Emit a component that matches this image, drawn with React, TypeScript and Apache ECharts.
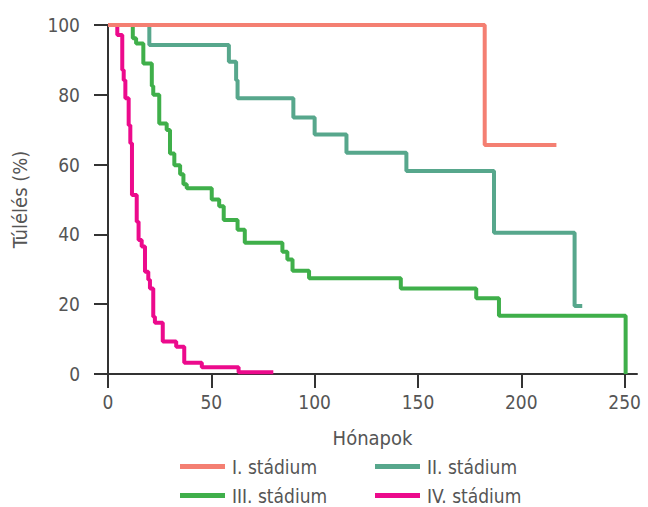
import React, { useEffect, useRef } from "react";
import * as echarts from "echarts";

const FONT = '"Liberation Sans Narrow", "DejaVu Sans Condensed", "Roboto", sans-serif';

const seriesNames = ["I. stádium", "II. stádium", "III. stádium", "IV. stádium"];
const seriesColors = ["#F47F72", "#57A78C", "#3FAF4A", "#EC0A8C"];

const xTicks = [0, 50, 100, 150, 200, 250];

const stage1: number[][] = [[0, 100], [182.3, 65.6], [217, 65.6]];
const stage2: number[][] = [
  [0, 100], [20, 94.3], [58.5, 89.5], [62, 84.2], [62.7, 79], [89.7, 73.5], [100, 68.6],
  [115.4, 63.4], [144.4, 58.2], [186.8, 40.5], [225.8, 19.5], [229.5, 19.3],
];
const stage3: number[][] = [
  [0, 100], [12, 96.2], [13.6, 94.7], [17.1, 89], [21.2, 82.5], [21.9, 80], [24.8, 71.8],
  [28.4, 69.9], [30, 63.2], [32.1, 59.8], [34.9, 57.2], [36.5, 54.4], [38.1, 53.2],
  [50.2, 50], [53.8, 48.1], [56, 44.1], [62.7, 41.3], [66.2, 37.6], [84.4, 35],
  [86.8, 32.8], [89.3, 29.6], [97.3, 27.4], [141.7, 24.5], [178.2, 21.7], [189.2, 16.7],
  [250.5, 0],
];
const stage4: number[][] = [
  [0, 100], [4.5, 97.1], [6.9, 87.1], [7.6, 84.2], [8.4, 79], [10, 71.3], [10.8, 66.1],
  [11.6, 51.3], [13.9, 43.6], [14.8, 38.4], [16.3, 36.5], [17.9, 29.3], [19.5, 27],
  [20.3, 24.5], [21.9, 16.4], [22.7, 14.7], [26.5, 9.3], [33, 7.8], [36.9, 3.2],
  [45.4, 1.9], [63.2, 0.5], [80, 0.5],
];

const seriesData = [stage1, stage2, stage3, stage4];

export default function App() {
  const ref = useRef<HTMLDivElement>(null);
  useEffect(() => {
    if (!ref.current) return;
    const chart = echarts.init(ref.current, null, { renderer: "svg" });
    const textColor = "#555";
    const axisColor = "#333";
    const legendPos = [
      { left: 175, top: 455 },
      { left: 370, top: 455 },
      { left: 175, top: 484 },
      { left: 370, top: 484 },
    ];
    chart.setOption({
      animation: false,
      textStyle: { fontFamily: FONT },
      grid: { left: 108, right: 11, top: 25, bottom: 133, containLabel: false },
      legend: seriesNames.map((n, i) => ({
        data: [n],
        left: legendPos[i].left,
        top: legendPos[i].top,
        padding: [2, 5, 0, 5],
        icon: "rect",
        itemWidth: 45,
        itemHeight: 5,
        itemGap: 0,
        textStyle: { fontFamily: FONT, fontSize: 19, lineHeight: 17, color: textColor, padding: [0, 0, 0, 2] },
        selectedMode: false,
      })),
      xAxis: {
        type: "value",
        min: 0,
        max: 256,
        name: "Hónapok",
        nameLocation: "middle",
        nameGap: 54,
        nameTextStyle: { fontFamily: FONT, fontSize: 20, color: textColor },
        splitLine: { show: false },
        axisLine: { show: true, onZero: false, lineStyle: { color: axisColor, width: 2 } },
        axisTick: { show: true, length: 14, customValues: xTicks, lineStyle: { color: axisColor, width: 2 } },
        axisLabel: { customValues: xTicks, margin: 18, fontSize: 19, color: textColor, fontFamily: FONT },
      },
      yAxis: {
        type: "value",
        min: 0,
        max: 100,
        interval: 20,
        name: "Túlélés (%)",
        nameLocation: "middle",
        nameGap: 78,
        nameTextStyle: { fontFamily: FONT, fontSize: 20, color: textColor },
        splitLine: { show: false },
        axisLine: { show: true, lineStyle: { color: axisColor, width: 2 } },
        axisTick: { show: true, length: 14, lineStyle: { color: axisColor, width: 2 } },
        axisLabel: { margin: 28, fontSize: 19, color: textColor, fontFamily: FONT },
      },
      series: seriesNames.map((n, i) => ({
        name: n,
        type: "line",
        step: "end",
        data: seriesData[i],
        symbol: "none",
        clip: false,
        z: 10 - i,
        color: seriesColors[i],
        lineStyle: { color: seriesColors[i], width: 4 },
      })),
    });
    return () => chart.dispose();
  }, []);
  return (
    <div
      ref={ref}
      style={{ position: "fixed", left: 0, top: 0, width: 648, height: 507, background: "#fff" }}
    />
  );
}
